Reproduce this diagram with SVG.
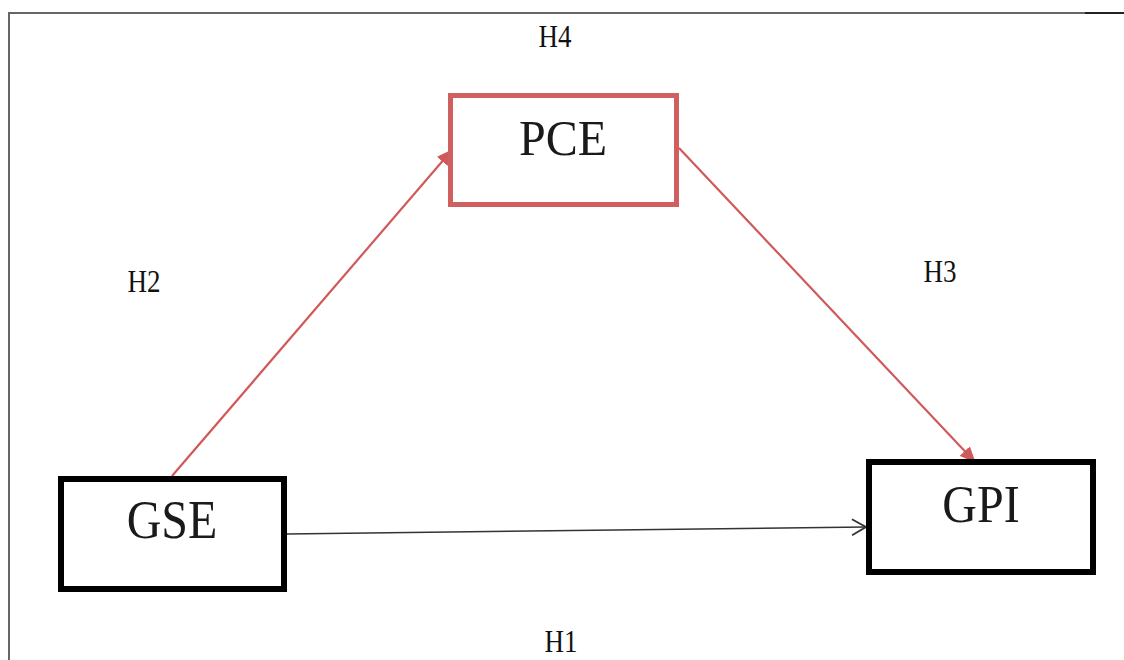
<svg xmlns="http://www.w3.org/2000/svg" width="1124" height="660" viewBox="0 0 1124 660">
  <style>
    .box { fill: #ffffff; stroke: #000000; stroke-width: 6; }
    .pce { fill: #ffffff; stroke: #d06060; stroke-width: 5; }
    .node-text { font-size: 48px; fill: #1a1a1a; text-anchor: middle; }
    .hyp { font-size: 27px; fill: #111111; text-anchor: middle; }
    .red-line { stroke: #d05a5a; stroke-width: 2.2; fill: none; }
    .black-line { stroke: #333333; stroke-width: 1.5; fill: none; }
    .frame { stroke: #666666; stroke-width: 2; fill: none; }
  </style>
  <defs>
    <marker id="redArrow" markerWidth="16" markerHeight="14" refX="15" refY="7" orient="auto" markerUnits="userSpaceOnUse">
      <path d="M0,0 L16,7 L0,14 Z" fill="#d05a5a"/>
    </marker>
    <marker id="openArrow" markerWidth="16" markerHeight="18" refX="15" refY="9" orient="auto" markerUnits="userSpaceOnUse">
      <path d="M1,1 L15,9 L1,17" fill="none" stroke="#333333" stroke-width="1.8"/>
    </marker>
  </defs>
  <rect width="1124" height="660" fill="#ffffff"/>
  <g id="frame">
    <path class="frame" d="M9,660 L9,13 L1124,13"/>
    <path d="M1085,13 L1124,13" stroke="#222222" stroke-width="2"/>
  </g>
  <g id="connectors">
    <line class="red-line" x1="172" y1="476" x2="452" y2="150" marker-end="url(#redArrow)"/>
    <line class="red-line" x1="679" y1="148" x2="975" y2="462" marker-end="url(#redArrow)"/>
    <line class="black-line" x1="287" y1="534" x2="866" y2="527" marker-end="url(#openArrow)"/>
  </g>
  <g id="node-gse">
    <rect class="box" x="61" y="479" width="223" height="110"/>
    <text class="node-text" font-family="Liberation Serif, Times New Roman, DejaVu Serif, serif" transform="translate(172,538) scale(1,1.15)">GSE</text>
  </g>
  <g id="node-pce">
    <rect class="pce" x="450.5" y="95.5" width="226" height="109"/>
    <text class="node-text" font-family="Liberation Serif, Times New Roman, DejaVu Serif, serif" transform="translate(563,155) scale(1,1.05)">PCE</text>
  </g>
  <g id="node-gpi">
    <rect class="box" x="869" y="462" width="224" height="110"/>
    <text class="node-text" font-family="Liberation Serif, Times New Roman, DejaVu Serif, serif" transform="translate(981,522) scale(1,1.1)">GPI</text>
  </g>
  <g id="labels" font-family="Liberation Serif, Times New Roman, DejaVu Serif, serif">
    <text class="hyp" transform="translate(555,47) scale(1,1.2)">H4</text>
    <text class="hyp" transform="translate(144,292) scale(1,1.2)">H2</text>
    <text class="hyp" transform="translate(940,282) scale(1,1.2)">H3</text>
    <text class="hyp" transform="translate(561,652) scale(1,1.2)">H1</text>
  </g>
</svg>
